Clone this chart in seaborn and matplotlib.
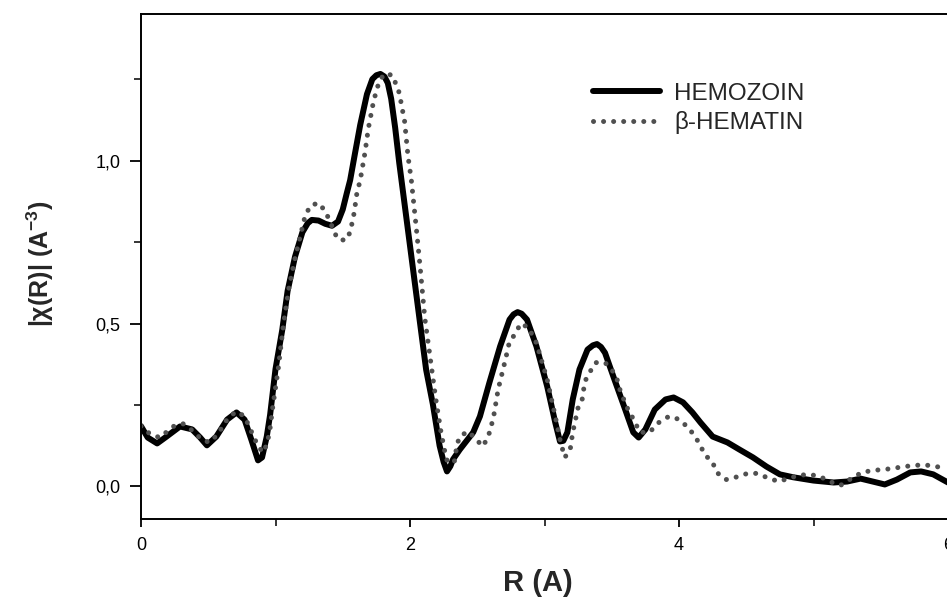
"""
|chi(R)| Fourier transform magnitude: hemozoin vs beta-hematin.
"""

import matplotlib
matplotlib.use("Agg")
import matplotlib.pyplot as plt
from matplotlib.ticker import FixedLocator, FixedFormatter
import pandas as pd
import seaborn as sns

# ── data ──────────────────────────────────────────────────────────────────

HEMOZOIN_R = [
    0.00, 0.05, 0.12, 0.19, 0.29, 0.38, 0.44, 0.49, 0.56, 0.64, 0.71, 0.77,
    0.82, 0.87, 0.90, 0.935, 0.96, 1.00, 1.05, 1.09, 1.145, 1.20, 1.24, 1.27, 1.32,
    1.37, 1.42, 1.465, 1.50, 1.53, 1.555, 1.59, 1.63, 1.68, 1.72, 1.75, 1.78, 1.81,
    1.835, 1.86, 1.89, 1.92, 1.97, 2.02, 2.07, 2.12, 2.17, 2.22, 2.25, 2.275,
    2.30, 2.32, 2.37, 2.47, 2.52, 2.59, 2.67, 2.74, 2.77, 2.80, 2.83, 2.87,
    2.94, 3.02, 3.08, 3.115, 3.14, 3.17, 3.21, 3.26, 3.32, 3.36, 3.39, 3.42,
    3.45, 3.52, 3.60, 3.66, 3.70, 3.75, 3.82, 3.90, 3.96, 4.03, 4.10, 4.16,
    4.25, 4.36, 4.45, 4.55, 4.65, 4.75, 4.85, 5.00, 5.15, 5.25, 5.35, 5.44,
    5.53, 5.62, 5.72, 5.80, 5.89, 6.00,
]
HEMOZOIN_CHI = [
    0.185, 0.150, 0.132, 0.153, 0.184, 0.175, 0.150, 0.126, 0.153, 0.205, 0.227, 0.205,
    0.144, 0.080, 0.089, 0.153, 0.220, 0.360, 0.480, 0.600, 0.705, 0.780, 0.808, 0.818, 0.816,
    0.806, 0.800, 0.813, 0.850, 0.900, 0.940, 1.020, 1.110, 1.204, 1.250, 1.262, 1.266, 1.258,
    1.238, 1.190, 1.100, 0.993, 0.834, 0.675, 0.516, 0.358, 0.252, 0.125, 0.075, 0.046,
    0.062, 0.083, 0.113, 0.166, 0.215, 0.318, 0.430, 0.512, 0.528, 0.535, 0.530, 0.512,
    0.430, 0.307, 0.196, 0.138, 0.140, 0.166, 0.267, 0.359, 0.420, 0.433, 0.437, 0.428,
    0.410, 0.328, 0.236, 0.166, 0.150, 0.175, 0.236, 0.267, 0.273, 0.258, 0.227, 0.196,
    0.153, 0.135, 0.113, 0.089, 0.061, 0.037, 0.028, 0.018, 0.012, 0.015, 0.024, 0.015,
    0.006, 0.021, 0.043, 0.046, 0.037, 0.012,
]

HEMATIN_R = [
    0.00, 0.07, 0.14, 0.24, 0.31, 0.39, 0.45, 0.51, 0.57, 0.65, 0.71, 0.77,
    0.83, 0.87, 0.91, 0.94, 0.96, 0.98, 1.02, 1.06, 1.10, 1.145, 1.22, 1.26,
    1.32, 1.37, 1.405, 1.46, 1.52, 1.555, 1.585, 1.605, 1.63, 1.665, 1.69, 1.73,
    1.77, 1.81, 1.87, 1.92, 1.96, 1.985, 2.01, 2.05, 2.075, 2.11, 2.155, 2.19,
    2.23, 2.27, 2.30, 2.33, 2.35, 2.37, 2.43, 2.48, 2.54, 2.58, 2.62, 2.655,
    2.71, 2.74, 2.79, 2.82, 2.88, 2.94, 3.02, 3.08, 3.115, 3.15, 3.19, 3.21,
    3.25, 3.28, 3.30, 3.34, 3.38, 3.45, 3.50, 3.54, 3.56, 3.61, 3.65, 3.71,
    3.78, 3.85, 3.925, 4.00, 4.07, 4.12, 4.16, 4.19, 4.25, 4.28, 4.35, 4.42,
    4.51, 4.58, 4.65, 4.74, 4.81, 4.89, 4.97, 5.05, 5.12, 5.20, 5.28, 5.36,
    5.44, 5.52, 5.59, 5.67, 5.75, 5.82, 5.90, 5.98,
]
HEMATIN_CHI = [
    0.185, 0.160, 0.150, 0.184, 0.193, 0.169, 0.144, 0.135, 0.160, 0.212, 0.230, 0.215,
    0.160, 0.123, 0.104, 0.135, 0.180, 0.245, 0.360, 0.500, 0.610, 0.700, 0.830, 0.862,
    0.870, 0.845, 0.813, 0.760, 0.755, 0.780, 0.840, 0.900, 0.940, 1.024, 1.098, 1.184,
    1.242, 1.267, 1.262, 1.208, 1.120, 1.014, 0.940, 0.780, 0.675, 0.517, 0.380, 0.273,
    0.168, 0.083, 0.070, 0.077, 0.129, 0.153, 0.169, 0.150, 0.123, 0.150, 0.210, 0.297,
    0.390, 0.445, 0.472, 0.500, 0.488, 0.440, 0.328, 0.215, 0.144, 0.089, 0.110, 0.166,
    0.242, 0.267, 0.322, 0.353, 0.380, 0.380, 0.359, 0.328, 0.298, 0.245, 0.215, 0.166,
    0.166, 0.196, 0.215, 0.206, 0.180, 0.153, 0.125, 0.098, 0.074, 0.043, 0.021, 0.028,
    0.040, 0.040, 0.028, 0.015, 0.024, 0.034, 0.037, 0.030, 0.015, 0.003, 0.024, 0.043,
    0.049, 0.052, 0.055, 0.061, 0.064, 0.067, 0.061, 0.058,
]

X_MAJOR = [0, 2, 4, 6]
X_MAJOR_LABELS = ["0", "2", "4", "6"]
X_MINOR = [1, 3, 5]
Y_MAJOR = [0.0, 0.5, 1.0]
Y_MAJOR_LABELS = ["0,0", "0,5", "1,0"]
Y_MINOR = [0.25, 0.75, 1.25]

FONT = ["Liberation Sans", "DejaVu Sans"]


def plot_chi() -> None:
    sns.set_style("ticks")
    plt.rcParams["font.family"] = FONT
    plt.rcParams["mathtext.fontset"] = "custom"
    plt.rcParams["mathtext.rm"] = "Liberation Sans:bold"
    plt.rcParams["mathtext.it"] = "Liberation Sans:bold"

    fig = plt.figure(figsize=(9.47, 5.97), dpi=100)
    # right part of the frame runs past the figure edge, like the original scan
    ax = fig.add_axes([141 / 947, 78 / 597, 941.5 / 947, 505 / 597])

    hemo = pd.DataFrame({"R": HEMOZOIN_R, "chi": HEMOZOIN_CHI})
    hema = pd.DataFrame({"R": HEMATIN_R, "chi": HEMATIN_CHI})

    sns.lineplot(data=hemo, x="R", y="chi", ax=ax, color="black", linewidth=4.3,
                 sort=False, estimator=None, label="HEMOZOIN",
                 solid_joinstyle="round", solid_capstyle="round")
    sns.lineplot(data=hema, x="R", y="chi", ax=ax, color="#505050", linewidth=3.6,
                 sort=False, estimator=None, label="β-HEMATIN",
                 linestyle=(0, (0.01, 2.0)), dash_capstyle="round")

    ax.set_xlim(0, 7)
    ax.set_ylim(-0.1, 1.45)

    ax.xaxis.set_major_locator(FixedLocator(X_MAJOR))
    ax.xaxis.set_major_formatter(FixedFormatter(X_MAJOR_LABELS))
    ax.xaxis.set_minor_locator(FixedLocator(X_MINOR))
    ax.yaxis.set_major_locator(FixedLocator(Y_MAJOR))
    ax.yaxis.set_major_formatter(FixedFormatter(Y_MAJOR_LABELS))
    ax.yaxis.set_minor_locator(FixedLocator(Y_MINOR))

    ax.tick_params(which="major", direction="out", length=8, width=1.3,
                   labelsize=13, colors="black")
    ax.tick_params(which="minor", direction="out", length=5, width=1.3)
    ax.tick_params(axis="y", which="major", pad=7)
    ax.tick_params(axis="x", which="major", pad=7, length=6)
    ax.tick_params(axis="x", which="minor", length=5)

    for side in ["left", "bottom", "top", "right"]:
        ax.spines[side].set_linewidth(1.4)
        ax.spines[side].set_color("black")

    ax.set_xlabel("")
    ax.set_ylabel("")
    fig.text(538 / 947, 1 - 583 / 597, "R (A)", ha="center", va="center",
             fontsize=21, fontweight="bold")
    fig.text(40 / 947, 1 - 264 / 597, "|χ(R)| (A$^{-3}$)", ha="center", va="center",
             rotation=90, fontsize=18, fontweight="bold")

    ax.legend(loc="center left", bbox_to_anchor=(593 / 947, 1 - 108.5 / 597),
              bbox_transform=fig.transFigure, frameon=False, fontsize=17.5,
              handlelength=2.75, handletextpad=0.6, labelspacing=0.28,
              borderpad=0, borderaxespad=0)

    fig.savefig("out.png", dpi=100)
    plt.close(fig)


def main() -> None:
    plot_chi()


if __name__ == "__main__":
    main()
